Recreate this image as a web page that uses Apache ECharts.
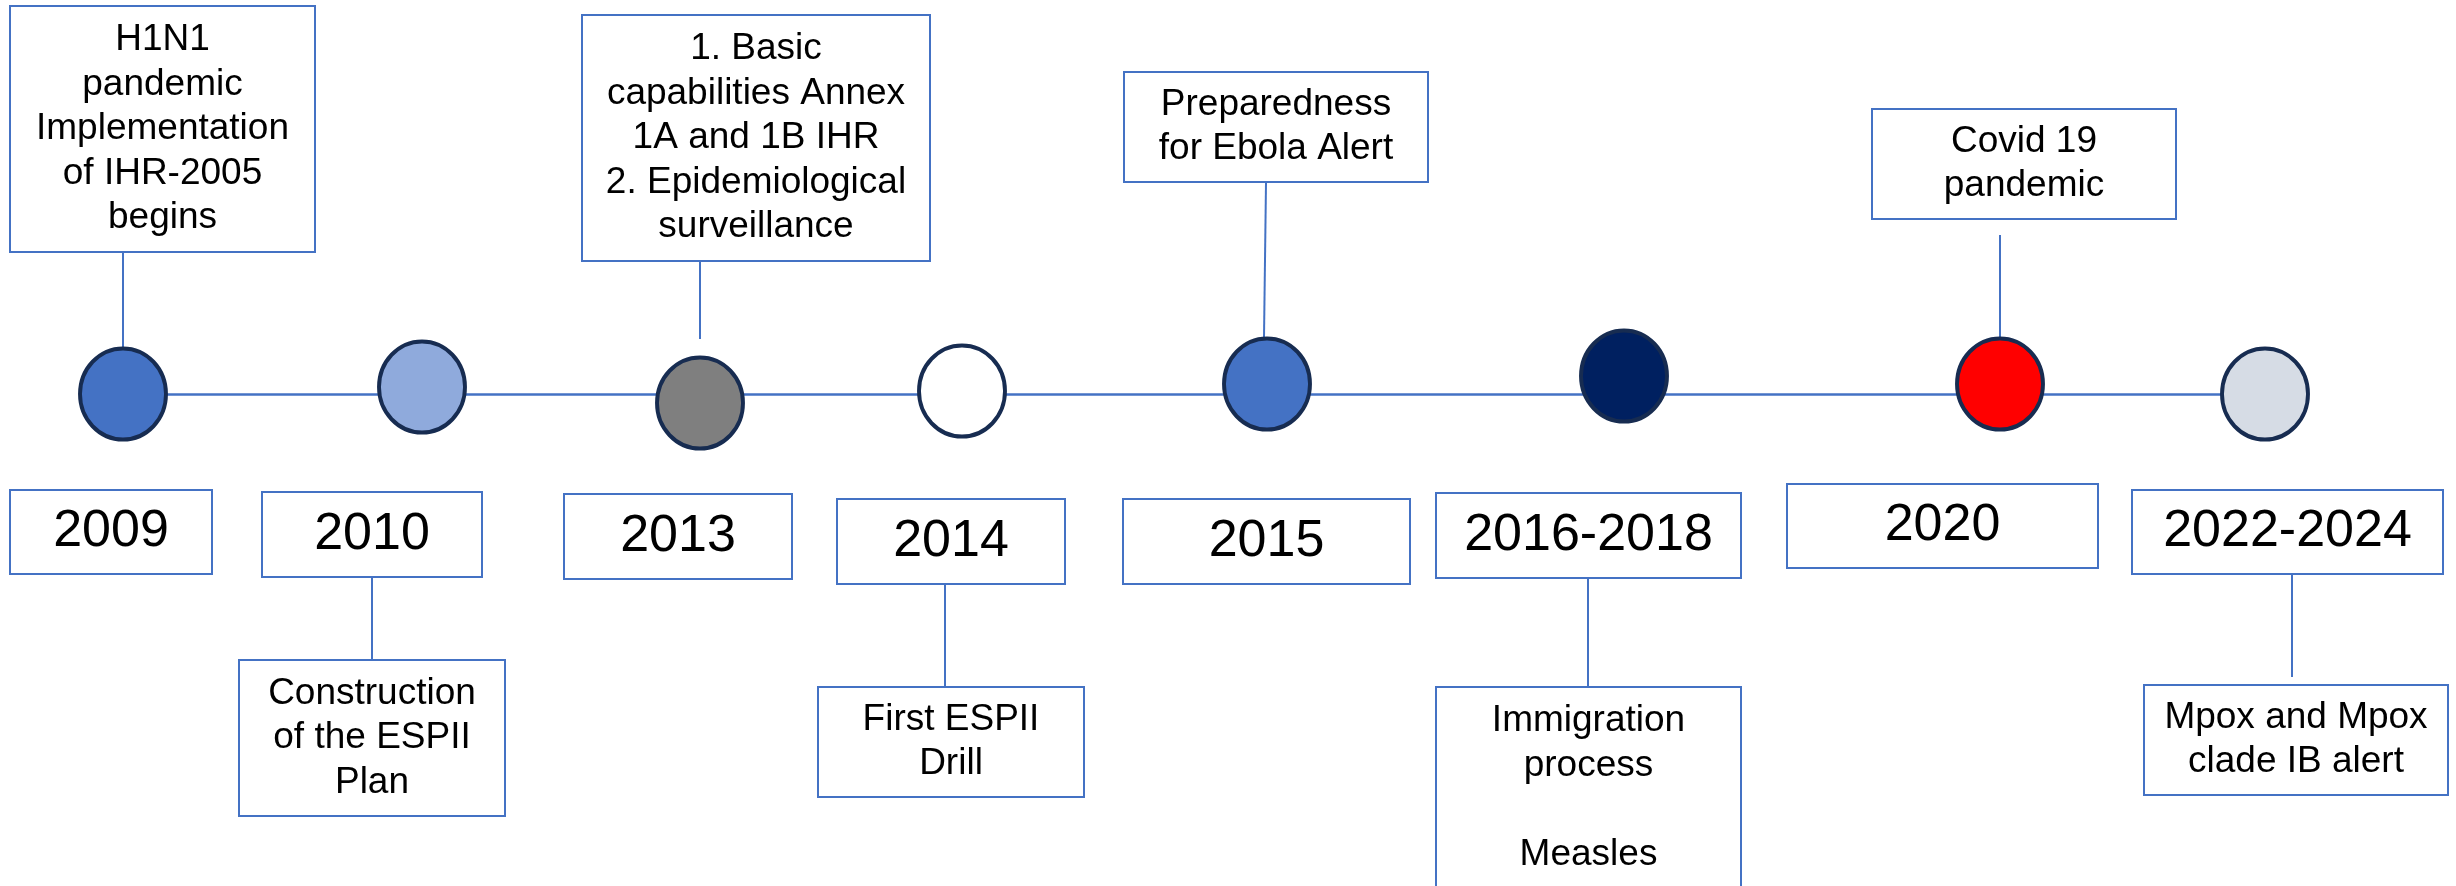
<!DOCTYPE html>
<html>
<head>
<meta charset="utf-8">
<script src="https://cdn.jsdelivr.net/npm/echarts@6/dist/echarts.min.js"></script>
<style>
html,body{margin:0;padding:0;background:#fff;}
#chart{width:2456px;height:886px;}
</style>
</head>
<body>
<div id="chart"></div>
<script>
// ---- data (units = picture pixels on hidden axes) ----
const years = ['2009','2010','2013','2014','2015','2016-2018','2020','2022-2024'];
const eventX = [123, 422, 700, 962, 1267, 1624, 2000, 2265];
const eventY = [394, 387, 403, 391, 384, 376, 384, 394];
const timelineY = 394;
// year boxes: [x1, x2, y1, y2]
const yearBoxes = [
  [10, 212, 490, 574], [262, 482, 492, 577], [564, 792, 494, 579], [837, 1065, 499, 584],
  [1123, 1410, 499, 584], [1436, 1741, 493, 578], [1787, 2098, 484, 568], [2132, 2443, 490, 574]
];
const noteTexts = [
  'H1N1\npandemic\nImplementation\nof IHR-2005\nbegins',
  'Construction\nof the ESPII\nPlan',
  '1. Basic\ncapabilities Annex\n1A and 1B IHR\n2. Epidemiological\nsurveillance',
  'First ESPII\nDrill',
  'Preparedness\nfor Ebola Alert',
  'Immigration\nprocess\n\nMeasles',
  'Covid 19\npandemic',
  'Mpox and Mpox\nclade IB alert'
];
const noteBoxes = [
  [10, 315, 6, 252], [239, 505, 660, 816], [582, 930, 15, 261], [818, 1084, 687, 797],
  [1124, 1428, 72, 182], [1436, 1741, 687, 889], [1872, 2176, 109, 219], [2144, 2448, 685, 795]
];
// connector segments: [x1, y1, x2, y2]
const noteLinks = [
  [123, 252, 123, 347], [372, 577, 372, 660], [700, 255, 700, 339], [945, 584, 945, 691],
  [1266, 183, 1264, 337], [1588, 578, 1588, 687], [2000, 235, 2000, 340], [2292, 568, 2292, 677]
];

// ---- styles ----
const circleFills = ['#4472C4', '#8FAADC', '#7F7F7F', '#FFFFFF', '#4472C4', '#002060', '#FF0000', '#D6DCE5'];
const BLUE = '#4472C4';
const FONT = '"Liberation Sans", Arial, sans-serif';

const chart = echarts.init(document.getElementById('chart'), null, {renderer: 'canvas'});

function boxRenderer(texts, fontSize, lineHeight) {
  return function (params, api) {
    const p1 = api.coord([api.value(0), api.value(2)]);
    const p2 = api.coord([api.value(1), api.value(3)]);
    const x = Math.min(p1[0], p2[0]), y = Math.min(p1[1], p2[1]);
    const w = Math.abs(p2[0] - p1[0]), h = Math.abs(p2[1] - p1[1]);
    return {
      type: 'group',
      children: [
        {type: 'rect', shape: {x: x, y: y, width: w, height: h},
         style: {fill: '#FFFFFF', stroke: BLUE, lineWidth: 2}},
        {type: 'text',
         style: {text: texts[params.dataIndex], x: x + w / 2, y: y + h / 2,
                 align: 'center', verticalAlign: 'middle', fill: '#000000',
                 fontSize: fontSize, fontFamily: FONT, lineHeight: lineHeight}}
      ]
    };
  };
}

chart.setOption({
  animation: false,
  backgroundColor: '#FFFFFF',
  grid: {left: 0, right: 0, top: 0, bottom: 0},
  xAxis: {type: 'value', min: 0, max: 2456, show: false},
  yAxis: {type: 'value', min: 0, max: 886, inverse: true, show: false},
  series: [
    {
      type: 'lines', coordinateSystem: 'cartesian2d', z: 1, silent: true,
      lineStyle: {color: BLUE, width: 2.5, opacity: 1},
      data: [{coords: [[eventX[0], timelineY], [eventX[eventX.length - 1], timelineY]]}]
    },
    {
      type: 'lines', coordinateSystem: 'cartesian2d', z: 2, silent: true,
      lineStyle: {color: BLUE, width: 2, opacity: 1},
      data: noteLinks.map(l => ({coords: [[l[0], l[1]], [l[2], l[3]]]}))
    },
    {
      type: 'scatter', z: 3, silent: true,
      symbol: 'circle', symbolSize: [86, 91],
      data: eventX.map((x, i) => ({
        value: [x, eventY[i]],
        itemStyle: {color: circleFills[i], borderColor: '#172C51', borderWidth: 4, opacity: 1}
      }))
    },
    {
      type: 'custom', z: 4, silent: true,
      renderItem: boxRenderer(years, 52, 60),
      data: yearBoxes
    },
    {
      type: 'custom', z: 4, silent: true,
      renderItem: boxRenderer(noteTexts, 37, 44.5),
      data: noteBoxes
    }
  ]
});
</script>
</body>
</html>
